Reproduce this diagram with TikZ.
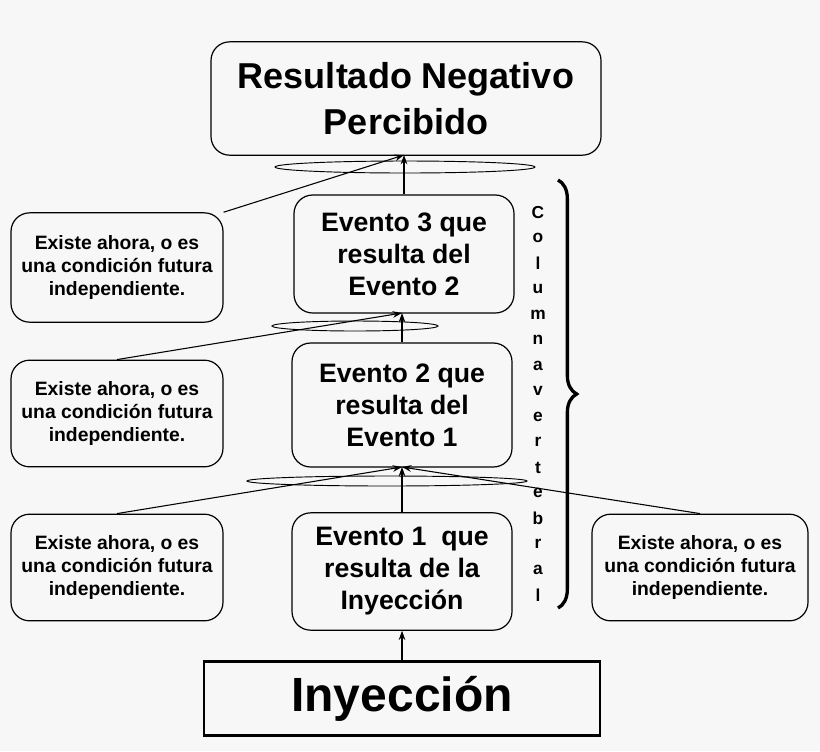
\documentclass[tikz,border=0pt]{standalone}
\usepackage{fontspec}
\setmainfont{Liberation Sans}
\usetikzlibrary{decorations.pathreplacing,arrows.meta}
\definecolor{bg}{HTML}{F7F7F7}
\begin{document}
\begin{tikzpicture}[x=0.75pt,y=-0.75pt,
  box/.style={draw,rounded corners=14pt,line width=0.9pt,align=center,font=\bfseries,inner sep=0pt},
  side/.style={box,font=\bfseries\fontsize{14.5}{17}\selectfont},
  ev/.style={box,font=\bfseries\fontsize{20}{24}\selectfont},
  arr/.style={-{Stealth[length=7pt,width=5pt]},line width=0.8pt},
  ell/.style={draw,line width=0.7pt}]
\fill[bg] (0,0) rectangle (820,751);
\useasboundingbox (0,0) rectangle (820,751);
\node[box,minimum width=292.5pt,minimum height=85pt,font=\bfseries\fontsize{27}{34}\selectfont] (top) at (406,98.5) {Resultado Negativo\\Percibido};
\node[ev,minimum width=165pt,minimum height=88.5pt] (e3) at (404,254) {Evento 3 que\\resulta del\\Evento 2};
\node[ev,minimum width=165pt,minimum height=93pt] (e2) at (402,405) {Evento 2 que\\resulta del\\Evento 1};
\node[ev,minimum width=165pt,minimum height=88pt] (e1) at (402,571.5) {Evento 1 \ que\\resulta de la\\Inyección};
\node[draw,line width=2.2pt,minimum width=297pt,minimum height=55pt,inner sep=0pt,font=\bfseries\fontsize{36}{40}\selectfont] (iny) at (402,698.5) {Inyección};
\node[side,minimum width=159pt,minimum height=82pt] (l3) at (117,267.5) {Existe ahora, o es\\una condición futura\\independiente.};
\node[side,minimum width=159pt,minimum height=80pt] (l2) at (117,413.5) {Existe ahora, o es\\una condición futura\\independiente.};
\node[side,minimum width=159pt,minimum height=80pt] (l1) at (117,567.5) {Existe ahora, o es\\una condición futura\\independiente.};
\node[side,minimum width=162pt,minimum height=80pt] (r1) at (700,567.5) {Existe ahora, o es\\una condición futura\\independiente.};
\draw[ell] (405,167) ellipse (130 and 6);
\draw[ell] (355,326) ellipse (83 and 5);
\draw[ell] (387,481) ellipse (140 and 5);
\coordinate (t1) at (404,155);
\coordinate (t2) at (402,313);
\coordinate (t3) at (402,467);
\draw[arr] (e3.north) -- (t1);
\draw[arr] (l3.north east) -- (t1);
\draw[arr] (e2.north) -- (t2);
\draw[arr] (l2.north) -- (t2);
\draw[arr] (e1.north) -- (t3);
\draw[arr] (l1.north) -- (t3);
\draw[arr] (r1.north) -- (t3);
\draw[arr] (iny.north) -- (e1.south);
\foreach \c [count=\i] in {C,o,l,u,m,n,a,v,e,r,t,e,b,r,a,l}
  \node[font=\bfseries\fontsize{13}{13}\selectfont,inner sep=0pt] (c\i) at (538,187+\i*25.5) {\c};
\draw[line width=2.5pt,decorate,decoration={brace,amplitude=14pt}] (558,180) -- (558,608);
\end{tikzpicture}
\end{document}
